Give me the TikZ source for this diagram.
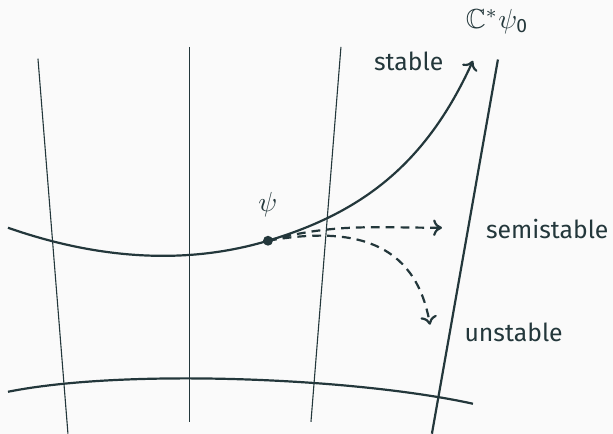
\documentclass[tikz,border=0pt]{standalone}
\usepackage{amsmath, amssymb}
\usepackage{fontspec}
\setmainfont{Fira Sans}
\usepackage{tikz}
\usetikzlibrary{arrows.meta, positioning, calc}
\definecolor{DarkTeal}{HTML}{23373B}
\definecolor{PaperWhite}{HTML}{FAFAFA}
\tikzset{word/.style={font=\fontsize{9}{11}\selectfont, text=DarkTeal},
         flow/.style={->, dash pattern=on 3.2pt off 2.2pt}}

\begin{document}
\begin{tikzpicture}[>={To[length=3.2pt, width=6pt]}, DarkTeal, line width=0.8pt]
        % Background
        \useasboundingbox (0,0) rectangle (7.83,5.54);
        \fill [PaperWhite] (0,0) rectangle (7.83,5.54);
        % Thin fibres
        \draw [line width=0.4pt] (0.485,4.79) -- (0.868,0);
        \draw [line width=0.4pt] (2.421,4.94) -- (2.421,0.153);
        \draw [line width=0.4pt] (4.355,4.94) -- (3.972,0.153);
        % Orbit line
        \coordinate (orbtop) at (6.36,4.78);
        \coordinate (orbbot) at (5.517,0);
        \draw (orbtop) -- (orbbot);
        \node (orblbl) at (6.35,5.26) {$\mathbb{C}^*\psi_{\text{0}}$};
        % Lower level curve
        \draw (0.102,0.536) .. controls (1.602,0.836) and (4.541,0.713) .. (6.041,0.383);
        % Upper level curve through psi
        \node [circle, fill=DarkTeal, inner sep=0pt, minimum size=3.6pt] (psi) at (3.423,2.465) {};
        \node (psilbl) at (3.42,2.92) {$\psi$};
        \coordinate (stableend) at (6.041,4.764);
        \coordinate (semiend) at (5.645,2.631);
        \coordinate (unstend) at (5.492,1.392);
        \draw (0.102,2.631) .. controls (1.302,2.211) and (2.423,2.165) .. (psi.center);
        \draw [->] (psi.center) .. controls (4.623,2.825) and (5.441,3.444) .. (stableend);
        % Flows
        \draw [flow] (psi.center) to [out=15, in=180] (semiend);
        \draw [flow] (psi.center) to [out=10, in=100, looseness=1.2] (unstend);
        \node [word] (stablelbl) at (5.22,4.76) {stable};
        \node [word] (semilbl) at (6.99,2.61) {semistable};
        \node [word] (unstlbl) at (6.56,1.29) {unstable};
    \end{tikzpicture}
\end{document}
